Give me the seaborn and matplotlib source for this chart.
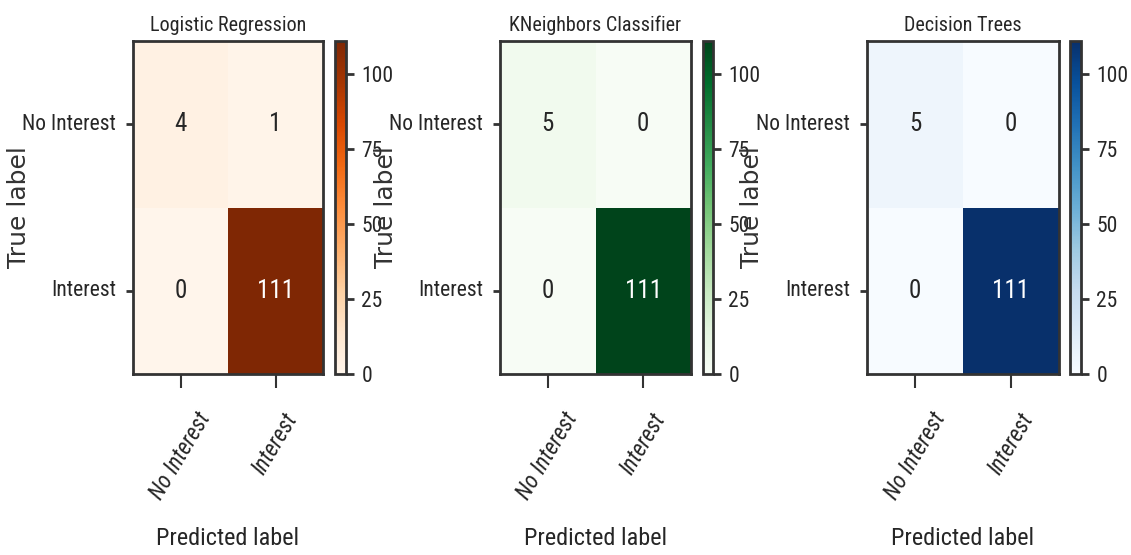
import matplotlib
matplotlib.use("Agg")
import matplotlib.pyplot as plt
from matplotlib import font_manager
import pandas as pd
import seaborn as sns

# Confusion matrices for the three classifiers
class_names = ["No Interest", "Interest"]
model_names = ["Logistic Regression", "KNeighbors Classifier", "Decision Trees"]
cm_logreg = [[4, 1], [0, 111]]
cm_knn = [[5, 0], [0, 111]]
cm_tree = [[5, 0], [0, 111]]
matrices = [cm_logreg, cm_knn, cm_tree]
cmaps = ["Oranges", "Greens", "Blues"]
cbar_ticks = [0, 25, 50, 75, 100]
scale_max = 111

sns.set_theme(style="ticks")

available = {f.name for f in font_manager.fontManager.ttflist}
narrow_candidates = ["Liberation Sans Narrow", "Roboto Condensed", "Open Sans Condensed",
                     "Liberation Sans"]
narrow = next((n for n in narrow_candidates if n in available), "DejaVu Sans")
plt.rcParams["font.family"] = [narrow, "DejaVu Sans"]
plt.rcParams["text.color"] = "#262626"

W, H = 1131, 555
fig = plt.figure(figsize=(W / 100, H / 100), dpi=100)


def box(left, top, right, bottom):
    return [left / W, 1 - bottom / H, (right - left) / W, (bottom - top) / H]


axes_boxes = [(133, 41, 323, 374), (500, 41, 691, 374), (867, 41, 1059, 374)]
cbar_boxes = [(335, 41, 346, 374), (703, 41, 713, 374), (1070, 41, 1081, 374)]
edge = "#333333"

for name, cm, cmap, abox, cbox in zip(model_names, matrices, cmaps, axes_boxes, cbar_boxes):
    ax = fig.add_axes(box(*abox))
    cax = fig.add_axes(box(*cbox))
    df = pd.DataFrame(cm, index=class_names, columns=class_names)
    sns.heatmap(df, ax=ax, cbar_ax=cax, cmap=cmap, vmin=0, vmax=scale_max,
                annot=True, fmt="d", annot_kws={"fontsize": 18}, square=False)

    for s in ax.spines.values():
        s.set_visible(True)
        s.set_linewidth(2)
        s.set_color(edge)

    ax.set_xticks([0.5, 1.5])
    ax.set_yticks([0.5, 1.5])
    ax.set_xticklabels(class_names, rotation=59, ha="center", va="top",
                       fontstyle="italic", fontsize=16.5)
    ax.set_yticklabels(class_names, rotation=0, va="center", fontsize=15.5)
    ax.tick_params(axis="x", length=10, width=1.5, pad=15, color=edge, bottom=True)
    ax.tick_params(axis="y", length=5, width=2, pad=7, color=edge, left=True)

    ax.set_title(name, fontsize=14.5, pad=7)
    ax.set_xlabel("Predicted label", fontsize=17.5)
    ax.xaxis.set_label_coords(0.5, -0.46)
    ax.set_ylabel("True label", fontsize=18, family="DejaVu Sans", color="#333333")
    ax.yaxis.set_label_coords(-0.535, 0.5)

    cbar = ax.collections[0].colorbar
    cbar.outline.set_visible(True)
    cbar.outline.set_linewidth(2)
    cbar.outline.set_edgecolor(edge)
    cbar.set_ticks(cbar_ticks)
    cax.tick_params(length=6, width=2, pad=5, labelsize=15.5, color=edge)

fig.savefig("out.png", dpi=100)
